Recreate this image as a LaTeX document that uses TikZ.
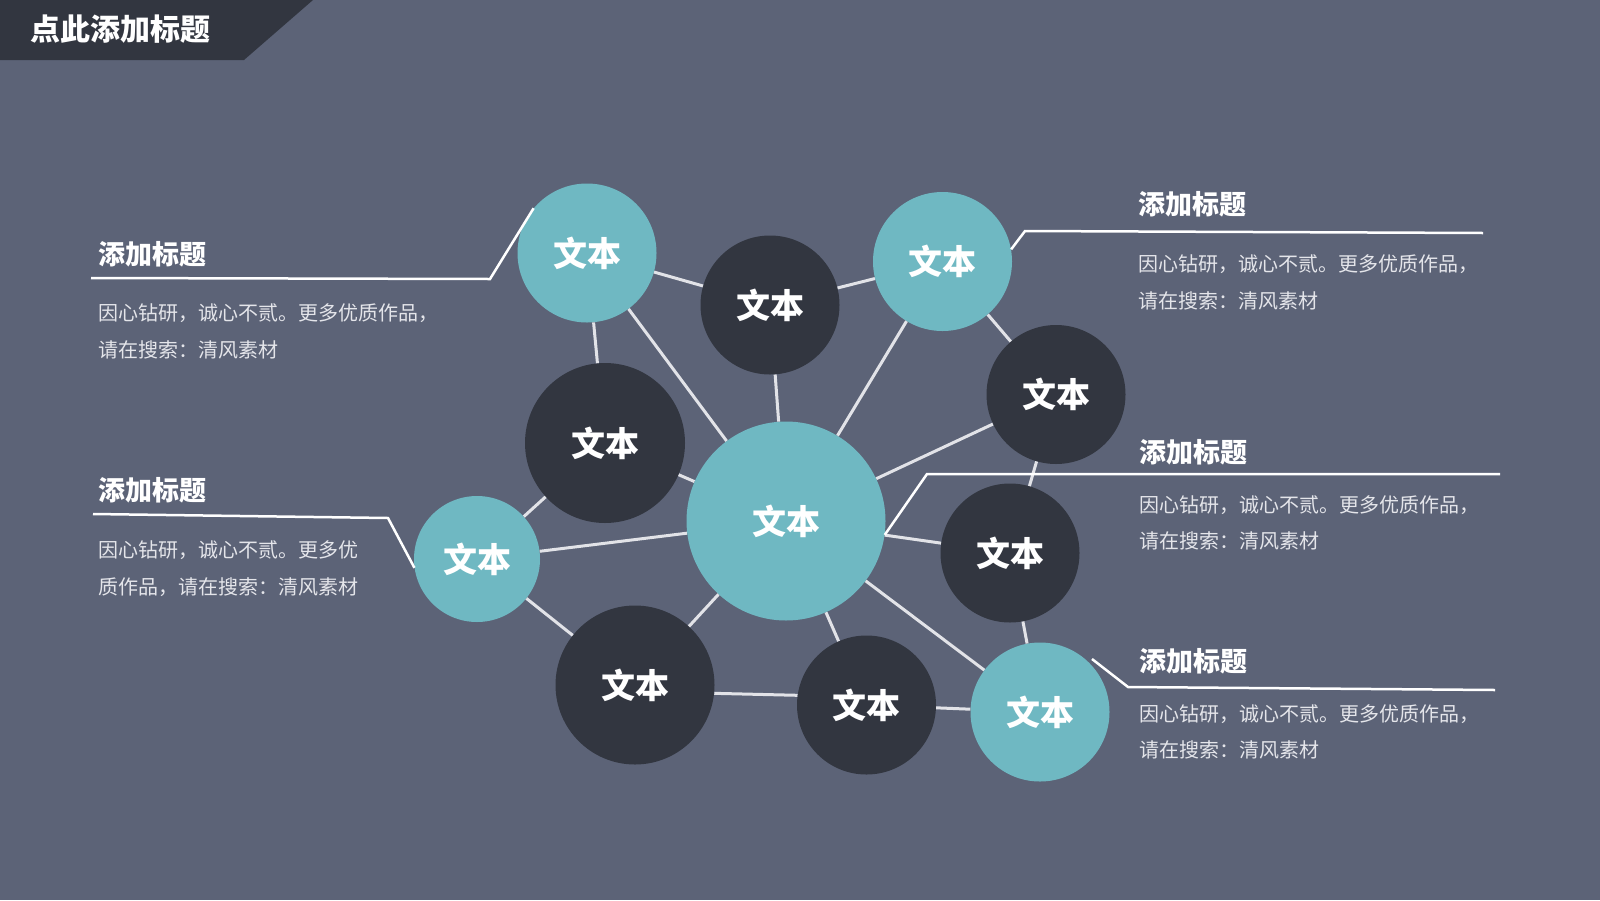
\documentclass[tikz,border=0pt]{standalone}
\usepackage{fontspec}
\newfontfamily\cjk{Noto Sans CJK SC}
\usetikzlibrary{positioning}
\definecolor{bgslate}{HTML}{5C6377}
\definecolor{inkdark}{HTML}{323640}
\definecolor{tealfill}{HTML}{6FB8C2}
\definecolor{wirelight}{HTML}{E2E3E8}
\definecolor{bodygray}{HTML}{E4E5EA}
\tikzstyle{bubble}=[circle, inner sep=0pt, text=white, font=\cjk\bfseries\fontsize{34}{34}\selectfont]
\tikzstyle{tealdot}=[bubble, fill=tealfill, minimum size=139pt]
\tikzstyle{darkdot}=[bubble, fill=inkdark, minimum size=139pt]
\tikzstyle{headline}=[anchor=west, inner sep=0pt, text=white, font=\cjk\bfseries\fontsize{27}{27}\selectfont]
\tikzstyle{bodytext}=[anchor=west, inner sep=0pt, align=left, text=bodygray, font=\cjk\fontsize{20}{36.5}\selectfont]
\tikzstyle{wire}=[draw=wirelight, line width=3pt]
\tikzstyle{lead}=[draw=white, line width=2.5pt]

\begin{document}
\begin{tikzpicture}[x=1pt,y=-1pt]
        \fill[bgslate] (0,0) rectangle (1600,900);
        \useasboundingbox (0,0) rectangle (1600,900);
        \fill[inkdark] (0,0) -- (313,0) -- (244,60) -- (0,60) -- cycle;
        \node [headline, font=\cjk\bfseries\fontsize{30}{30}\selectfont] (title) at (30,29.5) {点此添加标题};

        \node [tealdot] (a) at (587,253) {文本};
        \node [darkdot] (b) at (770,305) {文本};
        \node [tealdot] (c) at (942.5,261.5) {文本};
        \node [darkdot] (d) at (1056,394.5) {文本};
        \node [darkdot, minimum size=160pt] (e) at (605,443) {文本};
        \node [tealdot, minimum size=199pt] (m) at (786,521) {文本};
        \node [darkdot] (f) at (1010,553) {文本};
        \node [tealdot, minimum size=126pt] (g) at (477,559) {文本};
        \node [darkdot, minimum size=159pt] (h) at (635,685) {文本};
        \node [darkdot] (i) at (866.5,705) {文本};
        \node [tealdot] (j) at (1040,712) {文本};
        \path[wire]
        (a) edge (b)
        (b) edge (c)
        (a) edge (e)
        (a) edge (m)
        (b) edge (m)
        (c) edge (m)
        (c) edge (d)
        (d) edge (m)
        (d) edge (f)
        (e) edge (m)
        (e) edge (g)
        (g) edge (m)
        (g) edge (h)
        (h) edge (m)
        (h.-6) edge (i.172)
        (i) edge (m)
        (i) edge (j)
        (m) edge (j)
        (m) edge (f)
        (f) edge (j);

        \node [headline] (t1) at (98,254.5) {添加标题};
        \node [bodytext, below=77pt of t1.west, anchor=west] (p1) {因心钻研，诚心不贰。更多优质作品，\\请在搜索：清风素材};
        \node [headline] (t2) at (1138,204.5) {添加标题};
        \node [bodytext, below=78pt of t2.west, anchor=west] (p2) {因心钻研，诚心不贰。更多优质作品，\\请在搜索：清风素材};
        \node [headline] (t3) at (1139,452.5) {添加标题};
        \node [bodytext, below=70.5pt of t3.west, anchor=west] (p3) {因心钻研，诚心不贰。更多优质作品，\\请在搜索：清风素材};
        \node [headline] (t4) at (1139,661.5) {添加标题};
        \node [bodytext, below=70.5pt of t4.west, anchor=west] (p4) {因心钻研，诚心不贰。更多优质作品，\\请在搜索：清风素材};
        \node [headline] (t5) at (98,490.5) {添加标题};
        \node [bodytext, below=78pt of t5.west, anchor=west] (p5) {因心钻研，诚心不贰。更多优\\质作品，请在搜索：清风素材};

        \coordinate (k1) at (490,279);
        \coordinate (e1) at (91,278);
        \coordinate (k2) at (1025,231);
        \coordinate (e2) at (1483,233);
        \coordinate (k3) at (927,474);
        \coordinate (e3) at (1500,474);
        \coordinate (s4) at (1092,659);
        \coordinate (k4) at (1128,687);
        \coordinate (e4) at (1495,690);
        \coordinate (e5) at (93,514);
        \coordinate (k5) at (388,518);
        \draw[lead] (a.140) -- (k1) -- (e1);
        \draw[lead] (c.10) -- (k2) -- (e2);
        \draw[lead] (m.-8) -- (k3) -- (e3);
        \draw[lead] (s4) -- (k4) -- (e4);
        \draw[lead] (e5) -- (k5) -- (g.188);
    \end{tikzpicture}
\end{document}
